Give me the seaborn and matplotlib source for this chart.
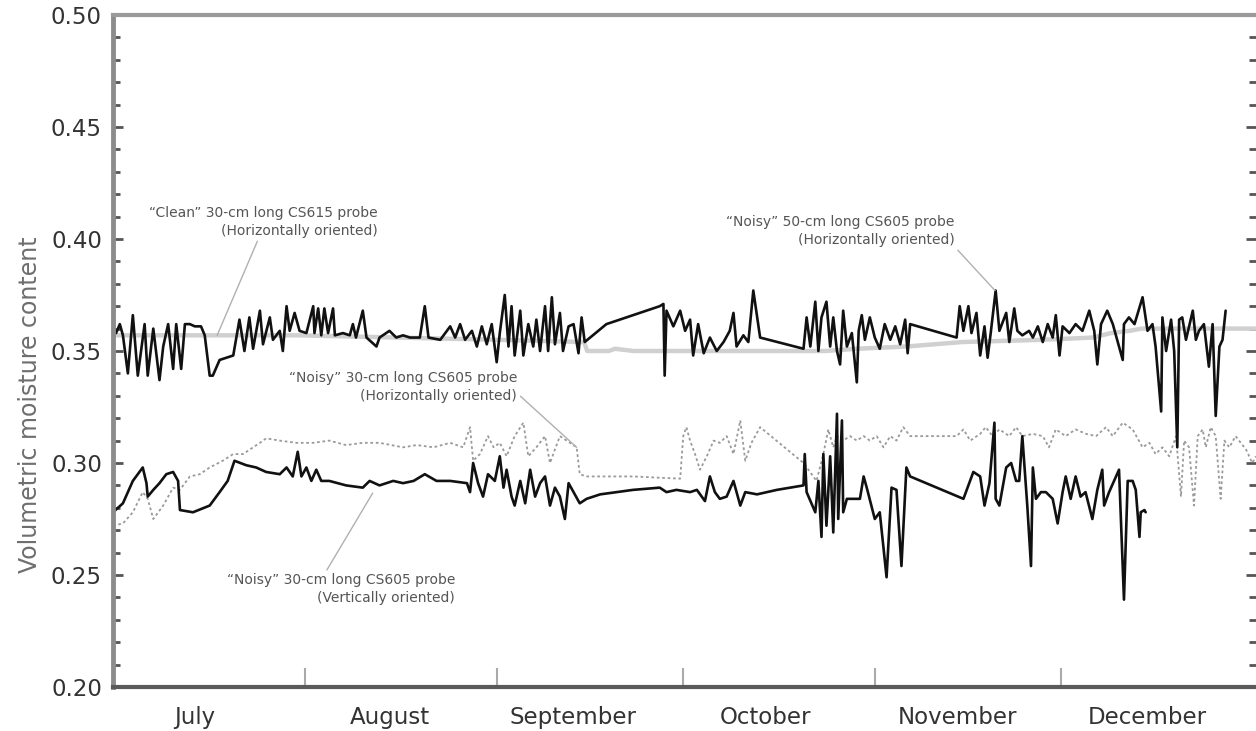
import matplotlib.pyplot as plt
import seaborn as sns
from matplotlib.ticker import MultipleLocator, FixedLocator, FormatStrFormatter, NullFormatter

sns.set_theme(style="ticks")
plt.rcParams['font.family'] = ['DejaVu Sans']

# x = days since 1 July, y = volumetric moisture content

# "Clean" 30-cm CS615 probe (horizontal)
clean_day = [0, 16, 30, 46, 62, 76, 76.5, 80, 81, 84, 100, 115, 120, 128, 137, 150, 158,
             161, 164, 166, 184.4]
clean_vmc = [0.357, 0.357, 0.357, 0.356, 0.355, 0.354, 0.350, 0.350, 0.351, 0.350, 0.350,
             0.350, 0.351, 0.352, 0.354, 0.355, 0.356, 0.358, 0.359, 0.360, 0.360]

# "Noisy" 50-cm CS605 probe (horizontal)
n50_day = [0, 0.5, 1.1, 1.6, 2.4, 3.2, 4.0, 5.1, 5.6, 6.5, 7.5, 8.1, 8.9, 9.7, 10.2, 11.0,
           11.6, 12.4, 13.2, 14.2, 14.8, 15.6, 16.1, 17.2, 19.4, 20.4, 21.2, 22.0, 22.6,
           23.7, 24.2, 25.3, 25.8, 26.9, 27.4, 28.0, 28.5, 29.3, 30.1, 31.2, 32.3, 32.5,
           33.1, 33.6, 34.1, 34.7, 35.5, 35.8, 37.1, 38.2, 38.7, 39.2, 40.3, 40.9, 42.5,
           43.0, 44.6, 45.7, 46.8, 47.9, 49.5, 50.3, 50.9, 52.8, 54.4, 55.2, 56.0, 56.8,
           57.9, 58.7, 59.5, 60.3, 61.1, 61.9, 62.4, 63.2, 63.8, 64.3, 64.8, 65.7, 66.2,
           67.0, 67.8, 68.3, 68.9, 69.7, 70.2, 70.8, 71.3, 72.1, 72.6, 73.5, 74.3, 75.1,
           75.6, 76.1, 79.6, 88.2, 88.8, 89.0, 89.3, 90.4, 91.5, 92.3, 93.1, 93.6, 94.4,
           95.3, 96.3, 97.4, 98.5, 99.5, 100.1, 100.6, 101.7, 102.5, 103.3, 104.4, 111.4,
           111.9, 112.5, 113.3, 113.8, 114.3, 115.1, 115.7, 116.2, 116.8, 117.3, 117.8,
           118.4, 119.2, 120.0, 120.3, 120.8, 121.3, 122.1, 122.9, 123.7, 124.5, 125.4,
           126.2, 127.0, 127.8, 128.2, 128.6, 136.1, 136.6, 137.2, 138.0, 138.5, 139.3,
           139.9, 140.6, 141.1, 141.6, 142.4, 143.0, 144.1, 144.6, 145.4, 145.9, 146.7,
           147.8, 148.4, 149.2, 150.0, 150.8, 151.6, 152.1, 152.7, 153.2, 154.3, 155.3,
           156.4, 157.5, 158.3, 158.8, 159.4, 160.4, 161.3, 162.9, 163.1, 163.9, 164.8,
           166.1, 166.9, 167.7, 168.2, 169.1, 169.3, 169.9, 170.7, 171.2, 171.7, 172.0,
           172.5, 173.1, 174.2, 174.7, 175.2, 176.0, 176.8, 177.4, 177.9, 178.5, 179.0,
           179.5]
n50_vmc = [0.359, 0.358, 0.362, 0.357, 0.340, 0.366, 0.339, 0.362, 0.339, 0.360, 0.337,
           0.352, 0.362, 0.342, 0.362, 0.342, 0.362, 0.362, 0.361, 0.361, 0.357, 0.339,
           0.339, 0.346, 0.348, 0.364, 0.350, 0.365, 0.351, 0.368, 0.353, 0.365, 0.355,
           0.359, 0.350, 0.370, 0.359, 0.367, 0.359, 0.358, 0.370, 0.358, 0.369, 0.357,
           0.369, 0.358, 0.369, 0.357, 0.358, 0.357, 0.362, 0.356, 0.368, 0.356, 0.352,
           0.356, 0.359, 0.356, 0.357, 0.356, 0.356, 0.370, 0.356, 0.355, 0.361, 0.356,
           0.362, 0.355, 0.359, 0.352, 0.361, 0.353, 0.362, 0.345, 0.358, 0.375, 0.352,
           0.370, 0.348, 0.368, 0.348, 0.362, 0.352, 0.364, 0.350, 0.370, 0.350, 0.374,
           0.353, 0.367, 0.350, 0.361, 0.362, 0.349, 0.365, 0.354, 0.362, 0.370, 0.371,
           0.339, 0.368, 0.361, 0.368, 0.359, 0.364, 0.348, 0.362, 0.349, 0.356, 0.350,
           0.354, 0.359, 0.367, 0.352, 0.357, 0.354, 0.377, 0.356, 0.351, 0.365, 0.352,
           0.372, 0.350, 0.365, 0.372, 0.352, 0.365, 0.350, 0.344, 0.368, 0.352, 0.358,
           0.336, 0.359, 0.366, 0.355, 0.365, 0.356, 0.351, 0.362, 0.355, 0.361, 0.353,
           0.364, 0.349, 0.362, 0.356, 0.370, 0.359, 0.370, 0.358, 0.367, 0.348, 0.361,
           0.347, 0.358, 0.377, 0.359, 0.367, 0.354, 0.369, 0.359, 0.357, 0.359, 0.356,
           0.361, 0.354, 0.362, 0.356, 0.366, 0.348, 0.361, 0.358, 0.362, 0.359, 0.368,
           0.359, 0.344, 0.362, 0.368, 0.362, 0.346, 0.362, 0.365, 0.362, 0.374, 0.359,
           0.362, 0.352, 0.323, 0.365, 0.350, 0.364, 0.350, 0.307, 0.364, 0.365, 0.355,
           0.368, 0.355, 0.359, 0.362, 0.343, 0.362, 0.321, 0.352, 0.355, 0.368]

# "Noisy" 30-cm CS605 probe (horizontal)
n30h_day = [0, 1.6, 3.2, 4.8, 5.6, 6.5, 8.1, 9.7, 10.8, 12.4, 14.0, 15.6, 17.7, 19.4, 21.0,
            22.6, 23.7, 24.7, 26.9, 29.6, 32.3, 34.9, 37.6, 40.3, 43.0, 46.8, 49.0, 51.7,
            54.4, 56.5, 57.6, 58.1, 59.2, 60.5, 61.4, 62.4, 63.5, 64.8, 66.2, 67.0, 68.3,
            69.7, 70.5, 72.1, 74.8, 75.3, 76.4, 83.9, 91.5, 92.0, 92.5, 93.1, 93.9, 94.7,
            95.8, 96.9, 97.9, 99.0, 100.1, 101.2, 102.0, 103.0, 104.4, 111.4, 113.5, 114.6,
            115.4, 116.2, 116.8, 117.8, 118.9, 120.0, 121.1, 122.1, 123.2, 124.3, 125.4,
            126.4, 127.5, 128.6, 136.1, 137.2, 138.3, 139.9, 140.8, 141.9, 143.0, 144.6,
            145.7, 146.7, 148.4, 150.0, 151.0, 152.1, 153.7, 155.3, 157.0, 158.6, 160.2,
            161.3, 162.9, 164.5, 166.1, 167.2, 168.2, 169.3, 170.4, 171.5, 172.3, 172.8,
            173.6, 174.4, 175.0, 175.8, 176.3, 177.1, 177.9, 178.7, 179.3, 180.1, 181.1,
            182.8, 183.8, 184.4]
n30h_vmc = [0.272, 0.273, 0.278, 0.287, 0.284, 0.275, 0.281, 0.289, 0.288, 0.294, 0.295,
            0.298, 0.301, 0.304, 0.304, 0.307, 0.309, 0.311, 0.310, 0.309, 0.309, 0.310,
            0.308, 0.309, 0.309, 0.307, 0.308, 0.307, 0.309, 0.307, 0.316, 0.301, 0.304,
            0.312, 0.307, 0.309, 0.303, 0.312, 0.318, 0.303, 0.307, 0.312, 0.300, 0.312,
            0.307, 0.295, 0.294, 0.294, 0.293, 0.312, 0.316, 0.310, 0.304, 0.297, 0.303,
            0.310, 0.309, 0.312, 0.304, 0.319, 0.301, 0.309, 0.316, 0.300, 0.292, 0.304,
            0.315, 0.307, 0.312, 0.310, 0.312, 0.310, 0.312, 0.310, 0.312, 0.307, 0.312,
            0.310, 0.316, 0.312, 0.312, 0.315, 0.310, 0.313, 0.316, 0.312, 0.315, 0.312,
            0.316, 0.312, 0.313, 0.312, 0.307, 0.315, 0.312, 0.315, 0.313, 0.312, 0.316,
            0.312, 0.318, 0.315, 0.307, 0.309, 0.304, 0.307, 0.303, 0.312, 0.285, 0.310,
            0.307, 0.281, 0.312, 0.315, 0.307, 0.316, 0.312, 0.284, 0.310, 0.307, 0.312,
            0.306, 0.300, 0.303]

# "Noisy" 30-cm CS605 probe (vertical)
n30v_day = [0, 1.6, 3.2, 4.8, 5.4, 5.6, 6.5, 7.5, 8.6, 9.7, 10.5, 10.8, 12.9, 15.6, 17.2,
            18.5, 19.6, 21.5, 23.1, 24.7, 26.9, 28.0, 29.0, 29.8, 30.4, 31.2, 32.0, 32.8,
            33.6, 34.9, 37.6, 40.3, 41.4, 43.0, 45.2, 46.8, 48.5, 50.3, 52.2, 54.4, 57.1,
            57.6, 58.1, 58.9, 59.7, 60.5, 61.6, 62.4, 63.0, 63.5, 64.3, 64.8, 65.7, 66.5,
            67.3, 68.1, 68.9, 69.7, 70.5, 71.3, 72.1, 72.9, 73.5, 74.3, 75.3, 76.4, 78.6,
            81.2, 83.9, 88.2, 89.3, 90.9, 93.1, 94.2, 95.5, 96.3, 97.1, 97.9, 99.0, 100.1,
            101.2, 102.0, 103.9, 107.1, 111.4, 111.6, 111.9, 113.3, 113.8, 114.3, 114.6,
            115.1, 115.7, 116.2, 116.8, 117.0, 117.6, 117.8, 118.4, 120.5, 121.1, 121.6,
            122.9, 123.7, 124.8, 125.6, 126.4, 127.2, 128.0, 128.6, 137.2, 138.8, 139.9,
            140.6, 141.4, 142.2, 142.4, 143.0, 144.1, 144.9, 145.7, 146.2, 146.7, 147.5,
            148.1, 148.4, 148.9, 149.7, 150.5, 151.6, 152.4, 153.2, 153.7, 154.5, 155.3,
            156.1, 156.9, 158.0, 158.8, 159.6, 159.9, 160.7, 162.3, 163.1, 163.7, 164.5,
            165.0, 165.6, 165.8, 166.4, 166.6]
n30v_vmc = [0.278, 0.282, 0.292, 0.298, 0.291, 0.285, 0.288, 0.291, 0.295, 0.296, 0.292,
            0.279, 0.278, 0.281, 0.287, 0.292, 0.301, 0.299, 0.298, 0.296, 0.295, 0.298,
            0.294, 0.305, 0.294, 0.298, 0.292, 0.297, 0.292, 0.292, 0.290, 0.289, 0.292,
            0.290, 0.292, 0.291, 0.292, 0.295, 0.292, 0.292, 0.291, 0.287, 0.300, 0.291,
            0.285, 0.295, 0.292, 0.303, 0.289, 0.297, 0.285, 0.281, 0.292, 0.282, 0.297,
            0.285, 0.291, 0.294, 0.281, 0.289, 0.285, 0.275, 0.291, 0.287, 0.282, 0.284,
            0.286, 0.287, 0.288, 0.289, 0.287, 0.288, 0.287, 0.288, 0.283, 0.294, 0.287,
            0.284, 0.285, 0.292, 0.281, 0.287, 0.286, 0.288, 0.290, 0.304, 0.287, 0.278,
            0.292, 0.267, 0.304, 0.272, 0.303, 0.269, 0.322, 0.275, 0.319, 0.278, 0.284,
            0.284, 0.294, 0.289, 0.275, 0.278, 0.249, 0.289, 0.288, 0.254, 0.298, 0.294,
            0.284, 0.296, 0.294, 0.281, 0.291, 0.318, 0.284, 0.281, 0.298, 0.300, 0.292,
            0.292, 0.312, 0.281, 0.254, 0.298, 0.284, 0.287, 0.287, 0.284, 0.273, 0.287,
            0.294, 0.284, 0.294, 0.285, 0.287, 0.275, 0.288, 0.297, 0.281, 0.287, 0.297,
            0.239, 0.292, 0.292, 0.288, 0.267, 0.278, 0.279, 0.278]

months = ["July", "August", "September", "October", "November", "December"]
month_mid = [13.2, 44.7, 74.2, 105.2, 136.3, 166.8]
month_start = [31, 62, 92, 123, 153]

fig = plt.figure(figsize=(12.56, 7.31), dpi=100)
ax = fig.add_axes([113 / 1256, 44 / 731, 1143 / 1256, 672 / 731])

sns.lineplot(x=clean_day, y=clean_vmc, ax=ax, color="#d0d0d0", linewidth=3.2,
             estimator=None, sort=False)
sns.lineplot(x=n30h_day, y=n30h_vmc, ax=ax, color="#9a9a9a", linewidth=1.3,
             linestyle=(0, (1.5, 1.5)), estimator=None, sort=False)
sns.lineplot(x=n50_day, y=n50_vmc, ax=ax, color="#111111", linewidth=1.9,
             estimator=None, sort=False)
sns.lineplot(x=n30v_day, y=n30v_vmc, ax=ax, color="#111111", linewidth=1.9,
             estimator=None, sort=False)

ax.set_xlim(0, 184.4)
ax.set_ylim(0.20, 0.50)

# frame
ax.spines["left"].set(color="#8c8c8c", linewidth=3.5)
ax.spines["bottom"].set(color="#5a5a5a", linewidth=3)
ax.spines["top"].set(color="#9a9a9a", linewidth=3)
ax.spines["right"].set_visible(False)

# y axis
ax.yaxis.set_major_locator(MultipleLocator(0.05))
ax.yaxis.set_minor_locator(MultipleLocator(0.01))
ax.yaxis.set_major_formatter(FormatStrFormatter("%.2f"))
ax.tick_params(axis="y", which="both", direction="in", left=True, right=True,
               color="#555555", width=2, labelsize=16.5, labelcolor="#333333", pad=8)
ax.tick_params(axis="y", which="major", length=7)
ax.tick_params(axis="y", which="minor", length=5)
ax.set_ylabel("")
fig.text(30 / 1256, (731 - 405) / 731, "Volumetric moisture content", rotation=90,
         ha="center", va="center", fontsize=17, color="#6e6e6e")

# x axis: month boundaries as ticks, month names in between
ax.xaxis.set_major_locator(FixedLocator(month_start))
ax.xaxis.set_major_formatter(NullFormatter())
ax.xaxis.set_minor_locator(FixedLocator(month_mid))
ax.set_xticklabels(months, minor=True)
ax.tick_params(axis="x", which="major", direction="in", length=14, width=1.5,
               color="#aaaaaa", top=False)
ax.tick_params(axis="x", which="minor", length=0, labelsize=16.5,
               labelcolor="#333333", pad=14)
ax.set_xlabel("")

# callouts
note = dict(ha="right", va="center", fontsize=10, color="#555555", linespacing=1.35)
ax.annotate("\u201cClean\u201d 30-cm long CS615 probe\n(Horizontally oriented)",
            xy=(16.8, 0.357), xytext=(42.7, 0.4076), **note,
            arrowprops=dict(arrowstyle="-", color="#b0b0b0", lw=1,
                            shrinkA=0, shrinkB=0, relpos=(0.48, 0.0)))
ax.annotate("\u201cNoisy\u201d 50-cm long CS605 probe\n(Horizontally oriented)",
            xy=(142.3, 0.377), xytext=(135.8, 0.4036), **note,
            arrowprops=dict(arrowstyle="-", color="#b0b0b0", lw=1,
                            shrinkA=0, shrinkB=0, relpos=(1.0, 0.0)))
ax.annotate("\u201cNoisy\u201d 30-cm long CS605 probe\n(Horizontally oriented)",
            xy=(74.8, 0.307), xytext=(65.2, 0.334), **note,
            arrowprops=dict(arrowstyle="-", color="#b0b0b0", lw=1,
                            shrinkA=0, shrinkB=0, relpos=(1.0, 0.3)))
ax.annotate("\u201cNoisy\u201d 30-cm long CS605 probe\n(Vertically oriented)",
            xy=(41.9, 0.2866), xytext=(55.2, 0.2437), **note,
            arrowprops=dict(arrowstyle="-", color="#b0b0b0", lw=1,
                            shrinkA=0, shrinkB=0, relpos=(0.43, 1.0)))

fig.savefig("out.png", dpi=100)
